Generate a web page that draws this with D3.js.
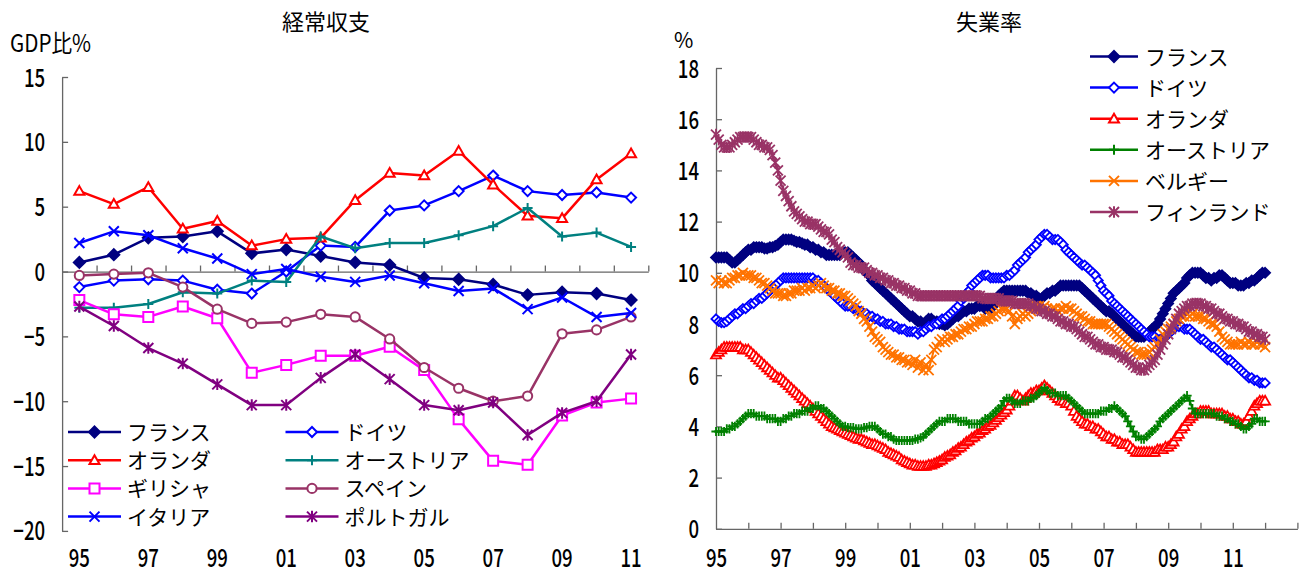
<!DOCTYPE html>
<html>
<head>
<meta charset="utf-8">
<script src="https://cdn.jsdelivr.net/npm/d3@7"></script>
<style>
  body { margin: 0; background: #fff; }
  svg { display: block; }
  text { font-family: "Noto Sans CJK JP", "Noto Sans", sans-serif; fill: #000; }
</style>
</head>
<body>
<svg id="chart" width="1299" height="574"></svg>
<script>
// ---------- 経常収支 (GDP比%), annual 1995–2011 ----------
const caYears = ["95","96","97","98","99","00","01","02","03","04","05","06","07","08","09","10","11"];
const caFrance      = [0.7, 1.3, 2.6, 2.7, 3.1, 1.4, 1.7, 1.2, 0.7, 0.5, -0.5, -0.6, -1.0, -1.8, -1.6, -1.7, -2.2];
const caGermany     = [-1.2, -0.7, -0.6, -0.7, -1.4, -1.7, 0.0, 2.0, 1.9, 4.7, 5.1, 6.2, 7.4, 6.2, 5.9, 6.1, 5.7];
const caNetherlands = [6.2, 5.2, 6.5, 3.3, 3.9, 2.0, 2.5, 2.6, 5.5, 7.6, 7.4, 9.3, 6.7, 4.3, 4.1, 7.1, 9.1];
const caAustria     = [-2.8, -2.8, -2.5, -1.6, -1.7, -0.7, -0.8, 2.7, 1.8, 2.2, 2.2, 2.8, 3.5, 4.9, 2.7, 3.0, 1.9];
const caGreece      = [-2.2, -3.3, -3.5, -2.7, -3.6, -7.8, -7.2, -6.5, -6.5, -5.8, -7.6, -11.4, -14.6, -14.9, -11.1, -10.1, -9.8];
const caSpain       = [-0.3, -0.2, -0.1, -1.2, -2.9, -4.0, -3.9, -3.3, -3.5, -5.2, -7.4, -9.0, -10.0, -9.6, -4.8, -4.5, -3.5];
const caItaly       = [2.2, 3.1, 2.8, 1.8, 1.0, -0.2, 0.2, -0.4, -0.8, -0.3, -0.9, -1.5, -1.3, -2.9, -2.0, -3.5, -3.2];
const caPortugal    = [-2.7, -4.2, -5.9, -7.1, -8.7, -10.3, -10.3, -8.2, -6.4, -8.3, -10.3, -10.7, -10.1, -12.6, -10.9, -10.0, -6.4];
const caYTicks = [15, 10, 5, 0, -5, -10, -15, -20];

// ---------- 失業率 (%), monthly from Jan 1995 ----------
const urStartYear = 1995;
const urFrance = [
  10.6,10.6,10.6,10.6,10.6,10.5,10.4,10.4,10.5,10.6,10.7,10.8,
  10.9,10.9,11.0,11.0,11.0,11.0,10.95,10.95,11.0,11.0,11.05,11.1,
  11.2,11.3,11.3,11.3,11.3,11.25,11.2,11.2,11.15,11.1,11.1,11.0,
  11.0,10.9,10.9,10.8,10.8,10.7,10.7,10.7,10.7,10.7,10.7,10.8,
  10.8,10.8,10.7,10.6,10.5,10.4,10.3,10.1,10.0,9.9,9.7,9.6,
  9.5,9.4,9.3,9.2,9.1,9.0,8.9,8.8,8.7,8.6,8.5,8.4,
  8.3,8.3,8.2,8.1,8.1,8.0,8.1,8.2,8.2,8.1,8.1,8.0,
  8.0,7.95,8.0,8.1,8.2,8.3,8.3,8.4,8.5,8.5,8.6,8.6,
  8.6,8.7,8.7,8.7,8.6,8.6,8.6,8.7,8.9,9.1,9.2,9.3,
  9.3,9.3,9.3,9.3,9.3,9.3,9.3,9.3,9.2,9.2,9.1,9.1,
  9.0,9.0,9.1,9.2,9.2,9.3,9.3,9.4,9.5,9.5,9.5,9.5,
  9.5,9.5,9.5,9.5,9.4,9.3,9.2,9.1,9.0,8.9,8.8,8.7,
  8.6,8.5,8.5,8.4,8.3,8.2,8.1,8.0,7.9,7.8,7.7,7.6,
  7.5,7.5,7.5,7.5,7.6,7.7,7.8,7.9,8.0,8.2,8.4,8.6,
  8.8,9.0,9.2,9.3,9.4,9.5,9.6,9.8,9.9,10.0,10.0,10.0,
  10.0,9.9,9.8,9.8,9.7,9.8,9.8,9.9,9.9,9.8,9.7,9.6,
  9.6,9.6,9.5,9.5,9.5,9.6,9.6,9.7,9.7,9.8,9.9,10.0,
  10.0
];
const urGermany = [
  8.2,8.1,8.05,8.05,8.1,8.2,8.3,8.4,8.4,8.5,8.6,8.6,
  8.7,8.8,8.8,8.9,9.0,9.0,9.1,9.2,9.3,9.4,9.5,9.6,
  9.7,9.8,9.8,9.8,9.8,9.8,9.8,9.8,9.8,9.8,9.8,9.8,
  9.8,9.7,9.7,9.6,9.5,9.4,9.3,9.2,9.1,9.0,8.9,8.8,
  8.7,8.7,8.7,8.6,8.6,8.5,8.5,8.4,8.4,8.3,8.3,8.2,
  8.2,8.1,8.1,8.0,8.0,8.0,7.9,7.9,7.8,7.8,7.8,7.7,
  7.7,7.7,7.7,7.6,7.7,7.7,7.8,7.9,7.9,8.0,8.0,8.1,
  8.2,8.2,8.3,8.4,8.5,8.6,8.7,8.9,9.0,9.2,9.3,9.5,
  9.6,9.7,9.8,9.9,9.9,9.9,9.8,9.8,9.8,9.8,9.8,9.8,
  9.9,9.9,10.0,10.1,10.3,10.4,10.5,10.6,10.8,10.9,11.0,11.1,
  11.3,11.4,11.5,11.5,11.4,11.3,11.3,11.3,11.2,11.1,10.9,10.8,
  10.7,10.6,10.5,10.4,10.3,10.3,10.2,10.1,10.0,9.9,9.7,9.5,
  9.3,9.2,9.1,8.9,8.8,8.7,8.6,8.5,8.4,8.3,8.2,8.1,
  8.0,7.9,7.8,7.7,7.6,7.5,7.5,7.5,7.4,7.4,7.4,7.5,
  7.6,7.7,7.8,7.9,7.9,7.9,7.8,7.8,7.8,7.7,7.6,7.5,
  7.4,7.4,7.3,7.2,7.1,7.1,7.0,6.9,6.8,6.7,6.6,6.6,
  6.5,6.4,6.3,6.2,6.1,6.0,5.9,5.9,5.8,5.8,5.7,5.7,
  5.7
];
const urNetherlands = [
  6.8,6.9,7.0,7.1,7.1,7.1,7.1,7.1,7.1,7.1,7.0,7.0,
  7.0,6.9,6.8,6.7,6.6,6.5,6.4,6.3,6.2,6.1,6.0,5.9,
  5.9,5.8,5.7,5.6,5.5,5.4,5.3,5.2,5.1,5.0,4.9,4.8,
  4.7,4.6,4.5,4.4,4.3,4.2,4.1,4.0,3.95,3.9,3.85,3.8,
  3.75,3.7,3.65,3.6,3.55,3.5,3.5,3.45,3.4,3.35,3.3,3.3,
  3.25,3.2,3.15,3.1,3.0,2.95,2.9,2.85,2.8,2.7,2.65,2.6,
  2.55,2.5,2.5,2.45,2.45,2.45,2.45,2.5,2.5,2.55,2.6,2.65,
  2.7,2.8,2.85,2.9,3.0,3.05,3.15,3.2,3.3,3.4,3.45,3.55,
  3.6,3.7,3.75,3.85,3.9,4.0,4.05,4.15,4.25,4.35,4.45,4.55,
  4.65,4.8,5.0,5.2,5.2,5.1,5.0,5.1,5.2,5.3,5.3,5.4,
  5.4,5.5,5.6,5.5,5.4,5.3,5.2,5.1,5.0,5.0,4.9,4.9,
  4.8,4.6,4.4,4.3,4.2,4.1,4.1,4.0,4.0,3.9,3.9,3.8,
  3.7,3.6,3.6,3.5,3.5,3.4,3.4,3.3,3.3,3.3,3.2,3.1,
  3.0,3.0,3.0,3.0,3.0,3.0,3.0,3.0,3.1,3.1,3.1,3.2,
  3.2,3.3,3.4,3.6,3.7,3.9,4.0,4.2,4.3,4.4,4.5,4.5,
  4.6,4.6,4.6,4.6,4.5,4.5,4.5,4.5,4.5,4.4,4.4,4.3,
  4.3,4.2,4.2,4.1,4.1,4.2,4.4,4.6,4.8,4.9,5.0,5.0,
  5.0
];
const urAustria = [
  3.8,3.8,3.8,3.8,3.9,3.9,4.0,4.0,4.1,4.2,4.3,4.4,
  4.5,4.5,4.5,4.4,4.4,4.4,4.4,4.3,4.3,4.3,4.3,4.2,
  4.2,4.3,4.3,4.4,4.4,4.5,4.5,4.5,4.6,4.6,4.6,4.7,
  4.7,4.8,4.8,4.7,4.7,4.6,4.5,4.4,4.3,4.2,4.1,4.0,
  4.0,3.95,3.95,3.95,3.9,3.9,3.9,3.95,3.95,4.0,4.0,4.0,
  3.9,3.8,3.7,3.7,3.6,3.6,3.5,3.45,3.45,3.45,3.45,3.45,
  3.45,3.45,3.5,3.5,3.55,3.6,3.7,3.8,3.9,4.0,4.1,4.2,
  4.2,4.2,4.3,4.3,4.3,4.3,4.2,4.2,4.2,4.2,4.1,4.1,
  4.1,4.1,4.1,4.2,4.3,4.3,4.4,4.5,4.6,4.7,4.8,5.0,
  5.1,5.1,5.0,4.9,4.9,4.9,5.0,5.0,5.0,5.1,5.1,5.2,
  5.3,5.4,5.5,5.4,5.3,5.3,5.3,5.2,5.2,5.2,5.2,5.1,
  5.0,4.9,4.8,4.7,4.6,4.5,4.5,4.5,4.5,4.5,4.5,4.6,
  4.6,4.6,4.7,4.7,4.8,4.7,4.6,4.5,4.4,4.2,4.0,3.8,
  3.6,3.6,3.5,3.5,3.6,3.7,3.8,3.9,4.0,4.2,4.3,4.4,
  4.5,4.6,4.7,4.8,4.9,5.0,5.1,5.2,5.0,4.7,4.5,4.5,
  4.5,4.5,4.5,4.5,4.5,4.5,4.4,4.4,4.4,4.3,4.3,4.2,
  4.2,4.1,4.1,4.0,3.9,3.9,4.0,4.1,4.3,4.3,4.2,4.2,
  4.2
];
const urBelgium = [
  9.7,9.6,9.7,9.6,9.6,9.7,9.8,9.8,9.9,9.9,10.0,9.9,
  9.9,9.9,9.8,9.8,9.7,9.6,9.6,9.5,9.4,9.3,9.2,9.2,
  9.2,9.1,9.1,9.2,9.2,9.3,9.3,9.3,9.4,9.3,9.4,9.4,
  9.5,9.4,9.5,9.6,9.5,9.4,9.4,9.3,9.3,9.2,9.2,9.1,
  9.1,9.0,8.9,8.8,8.7,8.5,8.4,8.2,8.1,7.9,7.7,7.5,
  7.4,7.3,7.1,7.0,6.9,6.8,6.8,6.7,6.7,6.6,6.6,6.5,
  6.5,6.4,6.6,6.3,6.5,6.2,6.4,6.2,6.6,7.0,7.1,7.3,
  7.4,7.3,7.4,7.5,7.5,7.6,7.6,7.7,7.8,7.8,7.9,7.9,
  8.0,8.1,8.1,8.1,8.2,8.2,8.3,8.3,8.4,8.5,8.6,8.6,
  8.6,8.5,8.3,8.0,8.2,8.3,8.4,8.3,8.4,8.5,8.6,8.7,
  8.7,8.6,8.7,8.6,8.5,8.6,8.6,8.5,8.6,8.6,8.7,8.6,
  8.6,8.5,8.4,8.3,8.3,8.2,8.1,8.1,8.0,8.0,8.0,8.0,
  8.0,8.0,7.9,7.8,7.7,7.6,7.5,7.4,7.3,7.2,7.1,7.0,
  6.9,6.9,6.8,6.8,6.8,6.9,7.0,7.1,7.2,7.4,7.6,7.7,
  7.8,7.9,8.0,8.1,8.2,8.3,8.3,8.4,8.3,8.4,8.3,8.3,
  8.3,8.2,8.2,8.1,8.0,8.0,7.9,7.7,7.5,7.4,7.3,7.2,
  7.2,7.2,7.2,7.3,7.2,7.2,7.3,7.2,7.2,7.3,7.2,7.2,
  7.1
];
const urFinland = [
  15.4,15.2,15.0,14.9,14.9,14.9,15.0,15.1,15.2,15.3,15.3,15.3,
  15.3,15.3,15.2,15.1,15.0,15.0,14.9,14.9,14.8,14.6,14.3,14.0,
  13.6,13.2,13.0,12.8,12.6,12.4,12.3,12.2,12.1,12.0,12.0,11.9,
  11.9,11.9,11.8,11.7,11.6,11.6,11.5,11.3,11.2,11.0,10.9,10.8,
  10.7,10.6,10.4,10.3,10.3,10.2,10.2,10.2,10.1,10.0,10.0,9.9,
  9.9,9.8,9.8,9.7,9.7,9.6,9.6,9.5,9.5,9.4,9.4,9.3,
  9.3,9.2,9.2,9.1,9.1,9.1,9.1,9.1,9.1,9.1,9.1,9.1,
  9.1,9.1,9.1,9.1,9.1,9.1,9.1,9.1,9.1,9.1,9.1,9.1,
  9.1,9.1,9.1,9.0,9.0,9.0,9.0,9.0,9.0,9.0,8.9,8.9,
  8.9,8.9,8.9,8.8,8.8,8.8,8.8,8.8,8.8,8.7,8.7,8.6,
  8.6,8.5,8.5,8.4,8.4,8.3,8.3,8.2,8.1,8.1,8.0,8.0,
  7.9,7.9,7.8,7.7,7.6,7.5,7.5,7.4,7.3,7.2,7.2,7.1,
  7.1,7.0,7.0,7.0,6.9,6.9,6.8,6.7,6.7,6.6,6.5,6.4,
  6.3,6.3,6.2,6.2,6.3,6.4,6.5,6.6,6.8,7.0,7.2,7.4,
  7.6,7.8,8.0,8.2,8.4,8.5,8.6,8.7,8.7,8.8,8.8,8.8,
  8.8,8.7,8.7,8.6,8.6,8.5,8.4,8.4,8.3,8.2,8.2,8.1,
  8.1,8.0,8.0,7.9,7.9,7.8,7.7,7.7,7.6,7.6,7.5,7.5,
  7.4
];
const urYTicks = [0, 2, 4, 6, 8, 10, 12, 14, 16, 18];
const urXLabelYears = [1995, 1997, 1999, 2001, 2003, 2005, 2007, 2009, 2011];

// ---------- series styling ----------
const caSeries = [
  { name: "フランス",     values: caFrance,      color: "#000080", shape: "diamond",  filled: true  },
  { name: "ドイツ",       values: caGermany,     color: "#0000FF", shape: "diamond",  filled: false },
  { name: "オランダ",     values: caNetherlands, color: "#FF0000", shape: "triangle", filled: false },
  { name: "オーストリア", values: caAustria,     color: "#008080", shape: "plus",     filled: false },
  { name: "ギリシャ",     values: caGreece,      color: "#FF00FF", shape: "square",   filled: false },
  { name: "スペイン",     values: caSpain,       color: "#993366", shape: "circle",   filled: false },
  { name: "イタリア",     values: caItaly,       color: "#0000FF", shape: "cross",    filled: false },
  { name: "ポルトガル",   values: caPortugal,    color: "#800080", shape: "star",     filled: false }
];
const urSeries = [
  { name: "フランス",     values: urFrance,      color: "#000080", shape: "diamond",  filled: true  },
  { name: "ドイツ",       values: urGermany,     color: "#0000FF", shape: "diamond",  filled: false },
  { name: "オランダ",     values: urNetherlands, color: "#FF0000", shape: "triangle", filled: false },
  { name: "オーストリア", values: urAustria,     color: "#008000", shape: "plus",     filled: false },
  { name: "ベルギー",     values: urBelgium,     color: "#FF7300", shape: "cross",    filled: false },
  { name: "フィンランド", values: urFinland,     color: "#993366", shape: "star",     filled: false }
];

const AXIS_COLOR = "#666";
const svg = d3.select("#chart");

// marker outline for a given shape, centred on 0,0 with half-size s
function markerPath(shape, s) {
  switch (shape) {
    case "diamond":  return `M0,${-s}L${s},0L0,${s}L${-s},0Z`;
    case "triangle": return `M0,${-s}L${s},${s * 0.75}L${-s},${s * 0.75}Z`;
    case "square":   return `M${-s},${-s}H${s}V${s}H${-s}Z`;
    case "plus":     return `M${-s},0H${s}M0,${-s}V${s}`;
    case "cross":    return `M${-s},${-s}L${s},${s}M${-s},${s}L${s},${-s}`;
    case "star":     return `M${-s},${-s}L${s},${s}M${-s},${s}L${s},${-s}M0,${-s * 1.15}V${s * 1.15}`;
    default:         return "";
  }
}

function drawMarker(g, d, x, y, s, sw) {
  if (d.shape === "circle") {
    g.append("circle").attr("cx", x).attr("cy", y).attr("r", s)
      .attr("fill", "#fff").attr("stroke", d.color).attr("stroke-width", sw);
    return;
  }
  const closed = ["diamond", "triangle", "square"].includes(d.shape);
  g.append("path").attr("transform", `translate(${x},${y})`)
    .attr("d", markerPath(d.shape, s))
    .attr("fill", closed ? (d.filled ? d.color : "#fff") : "none")
    .attr("stroke", d.color).attr("stroke-width", sw)
    .attr("stroke-linejoin", "miter");
}

// condensed numeric tick labels
function styleNumLabels(sel, dx, dy, anchor) {
  sel.selectAll("text")
    .attr("x", null).attr("y", null).attr("dy", null)
    .attr("text-anchor", anchor)
    .attr("transform", `translate(${dx},${dy}) scale(0.73,1)`)
    .style("font-size", "25.5px").style("font-weight", "500").attr("fill", "#000");
}

function styleAxisLines(sel) {
  sel.selectAll("path.domain").attr("stroke", AXIS_COLOR).attr("stroke-width", 1.3);
  sel.selectAll(".tick line").attr("stroke", AXIS_COLOR).attr("stroke-width", 1.3);
}

// ================= 経常収支 =================
{
  const yL = d3.scaleLinear().domain([-20, 15]).range([530.9, 77]);
  const xBand = d3.scaleBand().domain(caYears).range([62.1, 648.3]);
  const xEdge = d3.scaleLinear().domain([0, caYears.length]).range([62.1, 648.3]);
  const g = svg.append("g");

  svg.append("text").attr("x", 326).attr("y", 30).attr("text-anchor", "middle")
    .style("font-size", "22px").text("経常収支");
  svg.append("text").attr("transform", "translate(10,52) scale(0.86,1)")
    .style("font-size", "24px").text("GDP比%");

  // y axis
  const ya = g.append("g").attr("transform", "translate(62.1,0)")
    .call(d3.axisLeft(yL).tickValues(caYTicks).tickSizeInner(-6).tickSizeOuter(0));
  styleAxisLines(ya);
  styleNumLabels(ya, -17, 9, "end");

  // horizontal axis through zero with ticks between categories
  const xa = g.append("g").attr("transform", `translate(0,${yL(0)})`)
    .call(d3.axisTop(xEdge).tickValues(d3.range(1, caYears.length + 1)).tickSizeInner(6).tickSizeOuter(0).tickFormat(""));
  styleAxisLines(xa);

  // category labels along the bottom
  const xl = g.append("g").attr("transform", "translate(0,550)")
    .call(d3.axisBottom(xBand).tickValues(caYears.filter((d, i) => i % 2 === 0)).tickSize(0));
  xl.select("path.domain").remove();
  styleNumLabels(xl, 0, 16.5, "middle");

  const cx = d => xBand(d) + xBand.bandwidth() / 2;
  const line = d3.line().x((v, i) => cx(caYears[i])).y(v => yL(v));
  const sizeOf = d => d.shape === "circle" ? 4.6 : (d.shape === "diamond" && d.filled ? 5.5 : 5);

  caSeries.forEach(d => {
    const sg = g.append("g");
    sg.append("path").datum(d.values).attr("d", line)
      .attr("fill", "none").attr("stroke", d.color).attr("stroke-width", 2.5)
      .attr("stroke-linejoin", "round");
    d.values.forEach((v, i) => drawMarker(sg, d, cx(caYears[i]), yL(v), sizeOf(d), 2));
  });

  // legend: two columns
  const lg = g.append("g");
  caSeries.forEach((d, i) => {
    const col = i % 2, row = Math.floor(i / 2);
    const x0 = col === 0 ? 68 : 285.5;
    const y0 = 432 + row * 28.2;
    lg.append("line").attr("x1", x0).attr("x2", x0 + 53).attr("y1", y0).attr("y2", y0)
      .attr("stroke", d.color).attr("stroke-width", 2.5);
    drawMarker(lg, d, x0 + 26.5, y0, sizeOf(d), 2);
    lg.append("text").attr("x", x0 + 59).attr("y", y0 + 8).style("font-size", "21px").text(d.name);
  });
}

// ================= 失業率 =================
{
  const yR = d3.scaleLinear().domain([0, 18]).range([528.8, 68]);
  const xR = d3.scaleLinear().domain([1995, 2013]).range([716, 1297.4]);
  const g = svg.append("g");

  svg.append("text").attr("x", 989).attr("y", 30).attr("text-anchor", "middle")
    .style("font-size", "22px").text("失業率");
  svg.append("text").attr("x", 674).attr("y", 48).style("font-size", "21px").text("%");

  const ya = g.append("g").attr("transform", "translate(716,0)")
    .call(d3.axisLeft(yR).tickValues(urYTicks).tickSizeInner(-6).tickSizeOuter(0));
  styleAxisLines(ya);
  styleNumLabels(ya, -17, 9, "end");

  const xa = g.append("g").attr("transform", `translate(0,${yR(0)})`)
    .call(d3.axisTop(xR).tickValues(d3.range(1996, 2014)).tickSizeInner(6).tickSizeOuter(0).tickFormat(""));
  styleAxisLines(xa);

  const xl = g.append("g").attr("transform", "translate(0,550)")
    .call(d3.axisBottom(xR).tickValues(urXLabelYears).tickSize(0).tickFormat(d => String(d).slice(2)));
  xl.select("path.domain").remove();
  styleNumLabels(xl, 0, 16.5, "middle");

  const tx = i => xR(urStartYear + i / 12);
  const line = d3.line().x((v, i) => tx(i)).y(v => yR(v));

  const sizeOf = d => d.shape === "cross" || d.shape === "star" ? 5 :
                      (d.shape === "triangle" ? 5 : (d.filled ? 5 : 4.6));

  urSeries.forEach(d => {
    const sg = g.append("g");
    sg.append("path").datum(d.values).attr("d", line)
      .attr("fill", "none").attr("stroke", d.color).attr("stroke-width", 2)
      .attr("stroke-linejoin", "round");
    d.values.forEach((v, i) => drawMarker(sg, d, tx(i), yR(v), sizeOf(d), 1.8));
  });

  // legend: one column, upper right
  const lg = g.append("g");
  urSeries.forEach((d, i) => {
    const x0 = 1090, y0 = 56.5 + i * 31.1;
    lg.append("line").attr("x1", x0).attr("x2", x0 + 48).attr("y1", y0).attr("y2", y0)
      .attr("stroke", d.color).attr("stroke-width", 2.5);
    drawMarker(lg, d, x0 + 24, y0, d.shape === "diamond" && d.filled ? 5.5 : 5, 2);
    lg.append("text").attr("x", x0 + 55).attr("y", y0 + 8).style("font-size", "21px").text(d.name);
  });
}
</script>
</body>
</html>
